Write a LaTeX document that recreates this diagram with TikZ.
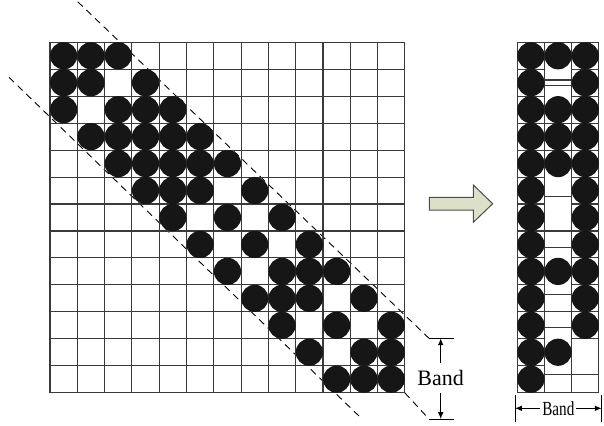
\documentclass[tikz,border=0pt]{standalone}
\usepackage{fontspec}
\setmainfont{Liberation Serif}
\usepackage{graphicx}
\usepackage{tikz}
\usetikzlibrary{arrows.meta, positioning}
\definecolor{dotBlack}{HTML}{161616}
\definecolor{gridGray}{HTML}{3A3A3A}
\definecolor{arrowFill}{HTML}{DCE0C8}

\begin{document}
\begin{tikzpicture}[x=0.5pt, y=0.5pt,
    gridline/.style={gridGray, line width=0.55pt},
    dot/.style={fill=dotBlack},
    bandline/.style={dash pattern=on 3.5pt off 2.5pt, line width=0.45pt},
    dimline/.style={-{Latex[length=3.4pt, width=2.8pt]}, line width=0.5pt},
    bandtext/.style={font=\fontsize{11}{13}\selectfont, inner sep=3.5pt}]
    \useasboundingbox (0,0) rectangle (604,-425);
    % Band limits
    \draw[bandline] (77.7,-1.7) -- (429,-338.3);
    \draw[bandline] (9,-77.3) -- (360,-417);
    \draw[bandline] (404.7,-392.7) -- (429,-419);
    % Sparse matrix
    \begin{scope}[shift={(50,-42.3)}, x=13.65pt, y=-13.475pt]
        \foreach \k in {0,...,13}
            \draw[gridline] (\k,0) -- (\k,13) (0,\k) -- (13,\k);
        \foreach \r/\cols in {0/{0,1,2}, 1/{0,1,3}, 2/{0,2,3,4}, 3/{1,2,3,4,5},
            4/{2,3,4,5,6}, 5/{3,4,5,7}, 6/{4,6,8}, 7/{5,7,9}, 8/{6,8,9,10},
            9/{7,8,9,11}, 10/{8,10,12}, 11/{9,11,12}, 12/{10,11,12}}
            \foreach \c in \cols
                \fill[dot] (\c+0.5,\r+0.5) circle[radius=6.8pt];
    \end{scope}
    % Transform arrow
    \draw[fill=arrowFill, draw=gray!60!black, line width=0.5pt]
        (429.3,-197.3) -- (473.3,-197.3) -- (473.3,-185) -- (492.7,-203.7)
        -- (473.3,-222.3) -- (473.3,-210) -- (429.3,-210) -- cycle;
    % Band storage
    \begin{scope}[shift={(517.3,-42.3)}, x=13.6pt, y=-13.475pt]
        \draw[gridline] (0,0) rectangle (3,13);
        \draw[gridline] (1,0) -- (1,13) (2,0) -- (2,13);
        \foreach \k in {1,...,12} \draw[gridline] (0,\k) -- (1,\k);
        \foreach \k in {1,...,11} \draw[gridline] (2,\k) -- (3,\k);
        \foreach \k in {1.4,1.61,3,4,5.73,7,7.63,9.35,10,10.59,12.32}
            \draw[gridline] (1,\k) -- (2,\k);
        \draw[gridline] (2,12.32) -- (3,12.32);
        \foreach \r/\cols in {0/{0,1,2}, 1/{0,2}, 2/{0,1,2}, 3/{0,1,2}, 4/{0,1,2},
            5/{0,2}, 6/{0,2}, 7/{0,2}, 8/{0,1,2}, 9/{0,2}, 10/{0,2}, 11/{0,1}, 12/{0}}
            \foreach \c in \cols
                \fill[dot] (\c+0.5,\r+0.5) circle[radius=6.8pt];
    \end{scope}
    % Band height
    \coordinate (topL) at (429,-338.3);
    \coordinate (topR) at (454.3,-338.3);
    \coordinate (botL) at (429,-419);
    \coordinate (botR) at (454.3,-419);
    \coordinate (topMid) at (440.7,-338.3);
    \coordinate (botMid) at (440.7,-419);
    \draw[line width=0.5pt] (topL) -- (topR) (botL) -- (botR);
    \node[bandtext] (bandV) at (440.7,-377.7) {Band};
    \draw[dimline] (bandV) -- (topMid);
    \draw[dimline] (bandV) -- (botMid);
    % Band width
    \coordinate (barLt) at (515,-395);
    \coordinate (barLb) at (515,-421.7);
    \coordinate (barRt) at (601.7,-395);
    \coordinate (barRb) at (601.7,-421.7);
    \coordinate (barLm) at (515,-408.3);
    \coordinate (barRm) at (601.7,-408.3);
    \draw[line width=0.5pt] (barLt) -- (barLb) (barRt) -- (barRb);
    \node[font=\fontsize{10}{12}\selectfont, inner xsep=0.8pt] (bandH) at (558.3,-408.3)
        {\scalebox{0.76}[1]{Band}};
    \draw[dimline] (bandH) -- (barLm);
    \draw[dimline] (bandH) -- (barRm);
\end{tikzpicture}
\end{document}
